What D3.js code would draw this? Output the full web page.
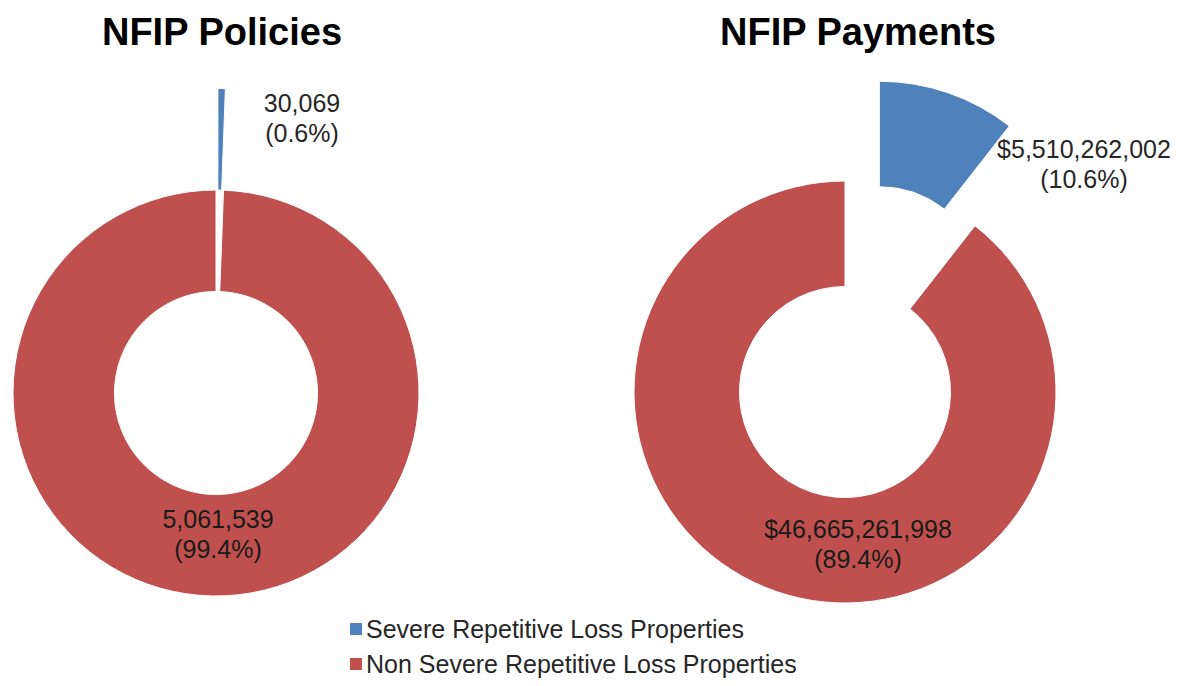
<!DOCTYPE html>
<html>
<head>
<meta charset="utf-8">
<script src="https://cdn.jsdelivr.net/npm/d3@7"></script>
<style>
  body { margin: 0; background: #fff; }
  text { font-family: "Liberation Sans", Arial, sans-serif; }
</style>
</head>
<body>
<svg id="chart" width="1187" height="686"></svg>
<script>
// NFIP doughnuts -- severe repetitive loss vs the rest

var categories = ["Severe Repetitive Loss Properties", "Non Severe Repetitive Loss Properties"];
var colors = ["#4f81bd", "#c0504d"];

var policyValues = [30069, 5061539];
var paymentValues = [5510262002, 46665261998];

var titles = ["NFIP Policies", "NFIP Payments"];

// layout of each doughnut (center, radius, label anchors relative to center)
var charts = [
  { title: titles[0], values: policyValues, fmt: d3.format(","),
    cx: 216, cy: 393, r: 203, titleX: 222,
    labelPos: [[86, -281], [2, 135]] },
  { title: titles[1], values: paymentValues, fmt: d3.format("$,"),
    cx: 845, cy: 392, r: 211, titleX: 858,
    labelPos: [[239, -234], [13, 146]] }
];

var svg = d3.select("#chart");
var pct = d3.format(".1%");

charts.forEach(function (c) {
  var g = svg.append("g").attr("transform", "translate(" + c.cx + "," + c.cy + ")");
  var total = d3.sum(c.values);
  var pie = d3.pie().sort(null).value(function (d) { return d; });
  var arcs = pie(c.values);
  var arc = d3.arc().innerRadius(c.r * 0.5).outerRadius(c.r);
  var explode = c.r * 0.5;

  g.selectAll("path")
    .data(arcs)
    .enter().append("path")
    .attr("d", arc)
    .attr("fill", function (d, i) { return colors[i]; })
    .attr("stroke", "#fff")
    .attr("stroke-width", 1)
    .attr("transform", function (d, i) {
      if (i !== 0) return null;
      // pull the severe slice out along its bisector
      var a = (d.startAngle + d.endAngle) / 2;
      return "translate(" + (Math.sin(a) * explode) + "," + (-Math.cos(a) * explode) + ")";
    });

  arcs.forEach(function (d, i) {
    var t = g.append("text")
      .attr("text-anchor", "middle")
      .attr("font-size", 25)
      .attr("fill", i === 0 ? "#262626" : "#1a1a1a");
    t.append("tspan")
      .attr("x", c.labelPos[i][0]).attr("y", c.labelPos[i][1])
      .text(c.fmt(d.data));
    t.append("tspan")
      .attr("x", c.labelPos[i][0]).attr("y", c.labelPos[i][1] + 30)
      .text("(" + pct(d.data / total) + ")");
  });

  svg.append("text")
    .attr("x", c.titleX).attr("y", 45)
    .attr("text-anchor", "middle")
    .attr("font-size", 38)
    .attr("font-weight", "bold")
    .attr("fill", "#000")
    .text(c.title);
});

// legend
var legend = svg.append("g").attr("transform", "translate(350,629)");
var rows = legend.selectAll("g")
  .data(categories)
  .enter().append("g")
  .attr("transform", function (d, i) { return "translate(0," + (i * 35) + ")"; });

rows.append("rect")
  .attr("x", 0).attr("y", -6)
  .attr("width", 12).attr("height", 12)
  .attr("fill", function (d, i) { return colors[i]; });

rows.append("text")
  .attr("x", 16).attr("y", 9)
  .attr("font-size", 25)
  .attr("fill", "#262626")
  .text(function (d) { return d; });
</script>
</body>
</html>
